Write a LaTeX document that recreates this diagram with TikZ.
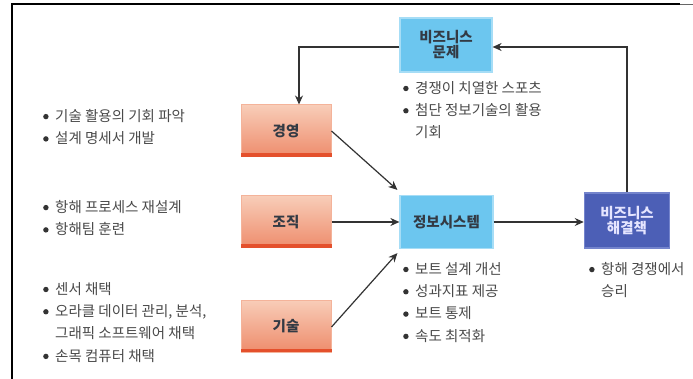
\documentclass[tikz,border=0pt]{standalone}
\usepackage{fontspec}
\setmainfont{Noto Sans CJK KR}
\usetikzlibrary{arrows.meta,calc}
\definecolor{ltblue}{HTML}{6CC6EF}
\definecolor{ltblueb}{HTML}{A6DDF6}
\definecolor{dkblue}{HTML}{4C5FB6}
\definecolor{dkblueb}{HTML}{7484CC}
\definecolor{orTop}{HTML}{F8CDB8}
\definecolor{orBot}{HTML}{EE8C6C}
\definecolor{orEdge}{HTML}{E4502C}
\definecolor{txtgray}{HTML}{4A4A4A}
\definecolor{boxtxt}{HTML}{333A44}
\definecolor{arrowc}{HTML}{333333}
\tikzset{
  bluebox/.style={draw=ltblueb, line width=1.2pt, fill=ltblue, text=boxtxt,
    font=\bfseries\fontsize{14.5}{16}\selectfont, align=center, inner sep=0pt},
  darkbox/.style={draw=dkblueb, line width=1.5pt, fill=dkblue, text=white!90!blue,
    font=\bfseries\fontsize{14.5}{16}\selectfont, align=center, inner sep=0pt},
  orbox/.style={draw=orTop!60!orBot, line width=1pt, top color=orTop, bottom color=orBot,
    text=boxtxt, font=\bfseries\fontsize{14.5}{16}\selectfont, align=center, inner sep=0pt,
    minimum width=90pt, minimum height=52pt},
  arr/.style={draw=arrowc, line width=1.2pt, -{Stealth[length=9pt,width=8pt]}},
  lst/.style={anchor=north west, text=txtgray, font=\fontsize{14.5}{22.3}\selectfont,
    align=left, inner sep=0pt},
}
\newcommand{\bul}{\makebox[12pt][l]{\textcolor{black!80}{\raisebox{2pt}{\tikz\fill (0,0) circle (2.7pt);}}}}
\newcommand{\ind}{\hspace*{12pt}}
\begin{document}
\begin{tikzpicture}[x=1pt,y=-1pt]
\useasboundingbox (0,0) rectangle (693,379);
\fill[white] (0,0) rectangle (693,379);
\draw[black, line width=1.6pt] (12,379) -- (12,4) -- (680,4);
\draw[black!60, line width=0.8pt] (680,4) -- (693,4);

% boxes
\node[bluebox, minimum width=92pt, minimum height=54pt] (prob) at (446,45) {비즈니스\\[-1pt]문제};
\node[orbox] (mgmt) at (286,131) {경영};
\node[orbox] (org) at (286,222) {조직};
\node[orbox] (tech) at (286,326) {기술};
\node[bluebox, minimum width=93pt, minimum height=53pt] (is) at (446.5,222) {정보시스템};
\node[darkbox, minimum width=85pt, minimum height=55pt] (sol) at (627,220.5) {비즈니스\\[-1pt]해결책};

% red bottom edges of orange boxes
\foreach \b in {mgmt,org,tech}{
  \fill[orEdge] ([yshift=0.5pt]\b.south west) rectangle ([yshift=4pt]\b.south east);
}

% connectors
\draw[arr] (sol.north) |- ([yshift=-2pt]prob.east);
\draw[arr] ([yshift=-2pt]prob.west) -| ([xshift=13pt]mgmt.north);
\draw[arr] (mgmt.east) -- ([xshift=-2pt,yshift=5pt]is.north west);
\draw[arr] (org.east) -- (is.west);
\draw[arr] ([yshift=-1pt]tech.east) -- ([xshift=-2pt,yshift=-4pt]is.south west);
\draw[arr] (is.east) -- ([yshift=-1.5pt]sol.west);

% lists
\node[lst] (l1) at (43,109) {\bul 기술 활용의 기회 파악\\ \bul 설계 명세서 개발};
\node[lst] (l2) at (43,200) {\bul 항해 프로세스 재설계\\ \bul 항해팀 훈련};
\node[lst] (l3) at (43,282) {\bul 센서 채택\\ \bul 오라클 데이터 관리, 분석,\\ \ind 그래픽 소프트웨어 채택\\ \bul 손목 컴퓨터 채택};
\node[lst] (l4) at (403,81) {\bul 경쟁이 치열한 스포츠\\ \bul 첨단 정보기술의 활용\\ \ind 기회};
\node[lst] (l5) at (403,262) {\bul 보트 설계 개선\\ \bul 성과지표 제공\\ \bul 보트 통제\\ \bul 속도 최적화};
\node[lst] (l6) at (589,262) {\bul 항해 경쟁에서\\ \ind 승리};
\end{tikzpicture}
\end{document}
